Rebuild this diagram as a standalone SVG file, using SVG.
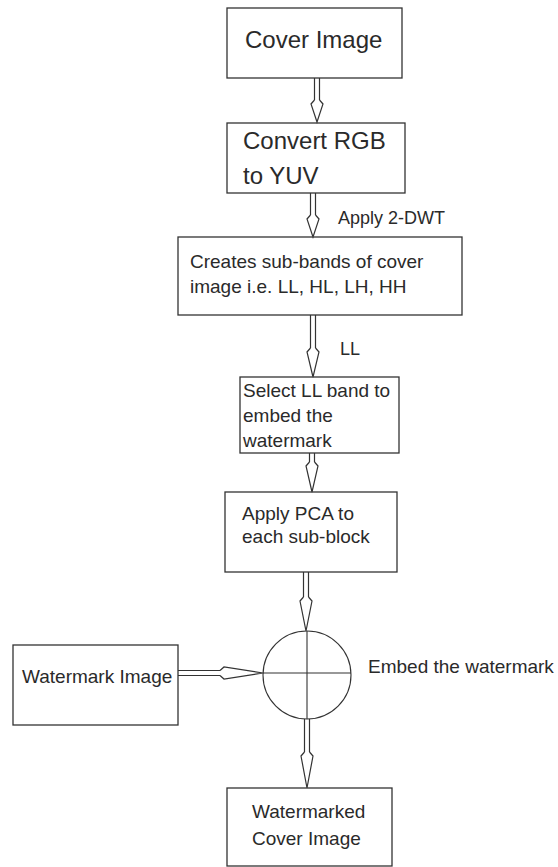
<svg xmlns="http://www.w3.org/2000/svg" width="558" height="867" viewBox="0 0 558 867">
<style>
.box{fill:#fff;stroke:#333;stroke-width:1.3}
.t{font-family:"Liberation Sans",Arial,sans-serif;fill:#2a2a2a}
.big{font-size:24px}
.sm{font-size:19px}
.sh{fill:none;stroke:#333;stroke-width:1.2}
.hd{fill:#fff;stroke:#333;stroke-width:1.2;stroke-linejoin:miter}
.c{fill:none;stroke:#333;stroke-width:1.1}
</style>
<rect width="558" height="867" fill="#fff"/>
<g id="cover-image">
<rect class="box" x="227" y="8" width="175" height="70"/>
<text class="t big" x="245" y="48">Cover Image</text>
</g>
<g id="convert-rgb">
<rect class="box" x="227" y="123" width="178" height="70"/>
<text class="t big" x="243" y="149">Convert RGB</text>
<text class="t big" x="243" y="184">to YUV</text>
</g>
<g id="sub-bands">
<rect class="box" x="178" y="237" width="284" height="78"/>
<text class="t sm" x="190" y="268">Creates sub-bands of cover</text>
<text class="t sm" x="190" y="293">image i.e. LL, HL, LH, HH</text>
</g>
<g id="select-ll">
<rect class="box" x="240" y="377" width="159" height="76"/>
<text class="t sm" x="243" y="397">Select LL band to</text>
<text class="t sm" x="243" y="422">embed the</text>
<text class="t sm" x="243" y="447">watermark</text>
</g>
<g id="apply-pca">
<rect class="box" x="225" y="492" width="172" height="80"/>
<text class="t sm" x="242" y="520">Apply PCA to</text>
<text class="t sm" x="242" y="543">each sub-block</text>
</g>
<g id="embed">
<circle class="c" cx="307" cy="675" r="44"/>
<line class="c" x1="307" y1="631" x2="307" y2="719"/>
<line class="c" x1="263" y1="673" x2="351" y2="673"/>
<text class="t sm" x="368" y="673">Embed the watermark</text>
</g>
<g id="watermark-image">
<rect class="box" x="13" y="645" width="165" height="80"/>
<text class="t sm" x="22" y="683">Watermark Image</text>
</g>
<g id="watermarked-cover">
<rect class="box" x="227" y="788" width="165" height="78"/>
<text class="t sm" x="252" y="818">Watermarked</text>
<text class="t sm" x="252" y="845">Cover Image</text>
</g>
<g id="connectors">
<path class="sh" d="M314.5 78V100M319.5 78V100"/>
<path class="hd" d="M314.5 100L311 104L317 122L323 104L319.5 100"/>
<path class="sh" d="M310.5 193V215M315.5 193V215"/>
<path class="hd" d="M310.5 215L307 219L313 237L319 219L315.5 215"/>
<text class="t" style="font-size:18px" x="338" y="224">Apply 2-DWT</text>
<path class="sh" d="M310.5 315V348M315.5 315V348"/>
<path class="hd" d="M310.5 348L307 352L313 377L319 352L315.5 348"/>
<text class="t" style="font-size:18px" x="340" y="355">LL</text>
<path class="sh" d="M309.5 453V462M314.5 453V462"/>
<path class="hd" d="M309.5 462L306 466L312 492L318 466L314.5 462"/>
<path class="sh" d="M303.5 572V597M308.5 572V597"/>
<path class="hd" d="M303.5 597L300 601L306 631L312 601L308.5 597"/>
<path class="sh" d="M178 670.5H220M178 675.5H220"/>
<path class="hd" d="M220 670.5L224 667L263 673L224 679L220 675.5"/>
<path class="sh" d="M304.5 719V752M309.5 719V752"/>
<path class="hd" d="M304.5 752L301 756L307 788L313 756L309.5 752"/>
</g>
</svg>
